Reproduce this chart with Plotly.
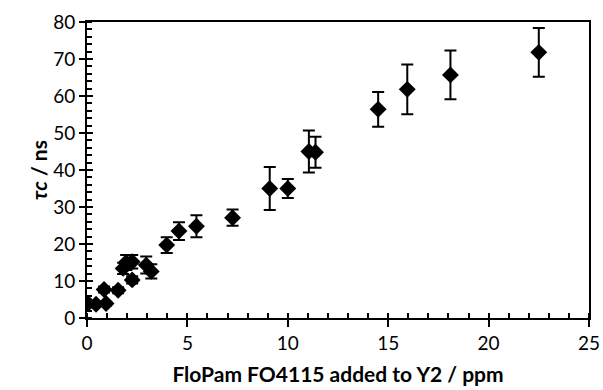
import plotly.graph_objects as go

# Data
dose_ppm = [0.05, 0.45, 0.95, 0.85, 1.55, 1.8, 1.95, 2.25, 2.25, 2.95, 3.2,
            3.97, 4.58, 5.45, 7.25, 9.1, 10.0, 11.05, 11.38, 14.5, 15.95, 18.1, 22.5]
tau_ns = [3.9, 3.7, 3.9, 7.7, 7.5, 13.4, 15.0, 15.2, 10.3, 14.3, 12.6,
          19.7, 23.5, 24.8, 27.1, 35.0, 35.0, 45.0, 44.8, 56.4, 61.8, 65.7, 71.8]
tau_err = [0.5, 0.5, 0.5, 0.8, 0.8, 1.5, 2.0, 1.8, 1.0, 2.3, 1.9,
           2.1, 2.4, 3.0, 2.2, 5.8, 2.6, 5.7, 4.2, 4.7, 6.7, 6.6, 6.6]

x_ticks = [0, 5, 10, 15, 20, 25]
y_ticks = [0, 10, 20, 30, 40, 50, 60, 70, 80]

font_family = "Lato, Open Sans, sans-serif"

fig = go.Figure()
fig.add_trace(go.Scatter(
    x=dose_ppm, y=tau_ns, mode="markers",
    marker=dict(symbol="diamond", size=13, color="black"),
    error_y=dict(type="data", array=tau_err, visible=True,
                 color="black", thickness=2, width=6),
    showlegend=False, hoverinfo="x+y",
))
# invisible trace to carry the overlay axes (inner half of crossing ticks)
fig.add_trace(go.Scatter(
    x=dose_ppm, y=tau_ns, xaxis="x2", yaxis="y2", mode="markers",
    marker=dict(opacity=0), showlegend=False, hoverinfo="skip",
))

axis_common = dict(showgrid=False, zeroline=False, linecolor="black", linewidth=2,
                   tickcolor="black", tickwidth=2, automargin=False,
                   tickfont=dict(family=font_family, size=19, color="black"))

fig.update_layout(
    width=603, height=390,
    margin=dict(l=87, r=14, t=22, b=72),
    paper_bgcolor="white", plot_bgcolor="white",
    xaxis=dict(range=[0, 25], tickvals=x_ticks, ticks="outside", ticklen=7,
               showline=True, mirror=True,
               minor=dict(dtick=1, ticks="inside", ticklen=5, tickcolor="black", tickwidth=1.5),
               title=dict(text="<b>FloPam FO4115 added to Y2 / ppm</b>",
                          font=dict(family=font_family, size=21, color="black"), standoff=15),
               **axis_common),
    yaxis=dict(range=[0, 80], tickvals=y_ticks, ticks="outside", ticklen=6,
               showline=True, mirror=True,
               minor=dict(dtick=2, ticks="inside", ticklen=5, tickcolor="black", tickwidth=1.5),
               title=dict(text="<b><i>τc</i> / ns</b>",
                          font=dict(family=font_family, size=21, color="black"), standoff=0),
               **axis_common),
    xaxis2=dict(overlaying="x", range=[0, 25], tickvals=x_ticks, ticks="inside",
                ticklen=4, tickcolor="black", tickwidth=2, showticklabels=False,
                showline=False, showgrid=False, zeroline=False, side="bottom"),
    yaxis2=dict(overlaying="y", range=[0, 80], tickvals=y_ticks, ticks="inside",
                ticklen=6, tickcolor="black", tickwidth=2, showticklabels=False,
                showline=False, showgrid=False, zeroline=False, side="left"),
)

fig.write_html("out.html")
